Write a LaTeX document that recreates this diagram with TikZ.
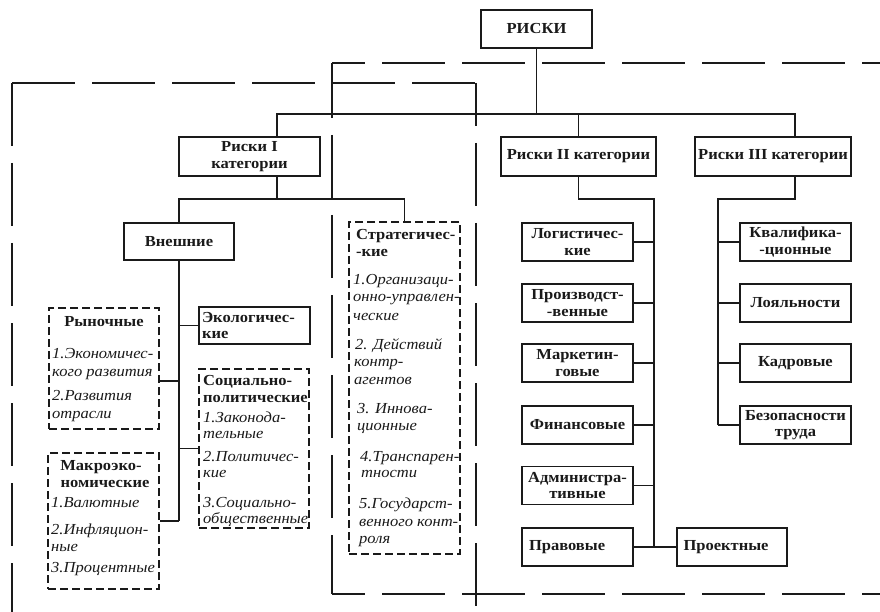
\documentclass[tikz,border=0pt]{standalone}
\usepackage{fontspec}
\setmainfont[FakeStretch=1.08]{Liberation Serif}
\definecolor{ink}{HTML}{1A1A1A}
\tikzset{
  ln/.style={draw=ink, line width=1.7pt},
  box/.style={draw=ink, line width=1.7pt, inner sep=0pt, align=center, text=ink,
    font=\bfseries\fontsize{15.3}{16.5}\selectfont},
  dbox/.style={draw=ink, line width=1.9pt, dash pattern=on 8pt off 4pt, inner sep=0pt},
  hd/.style={font=\bfseries\fontsize{15.3}{16.5}\selectfont, inner sep=0pt, text=ink},
  itx/.style={font=\itshape\fontsize{15.3}{18}\selectfont, inner sep=0pt, text=ink},
  big/.style={draw=ink, line width=2pt, dash pattern=on 63pt off 17pt},
}
\begin{document}
\begin{tikzpicture}[x=1pt,y=-1pt]
\useasboundingbox[fill=white] (0,0) rectangle (880,612);

% large dashed frames
\draw[big] (12,83) -- (12,612);
\draw[big] (12,83) -- (476,83);
\draw[big, dash phase=20pt] (476,83) -- (476,612);
\draw[big, dash phase=30pt] (332,63) -- (880,63);
\draw[big, dash phase=8pt] (332,63) -- (332,594);
\draw[big, dash phase=30pt] (332,594) -- (880,594);

% top level
\node[box, minimum width=111, minimum height=38] (root) at (536.5,29) {РИСКИ};
\node[box, minimum width=141, minimum height=39] (c1) at (249.5,156.5) {Риски I\\категории};
\node[box, minimum width=155, minimum height=39] (c2) at (578.5,156.5) {Риски II категории};
\node[box, minimum width=156, minimum height=39] (c3) at (773,156.5) {Риски III категории};

\coordinate (busL) at (277,114);
\coordinate (busR) at (795,114);
\draw[ln] (root.south) -- (root.south |- busL);
\draw[ln] (c1.north -| busL) -- (busL) -- (busR) -- (c3.north -| busR);
\draw[ln] (c2.north) -- (c2.north |- busL);

% category I
\node[box, minimum width=110, minimum height=37] (vn) at (179,241.5) {Внешние};
\node[dbox, minimum width=111, minimum height=332] (st) at (404.5,388) {};
\coordinate (j1) at (277,199);
\draw[ln] (c1.south -| j1) -- (j1);
\draw[ln] (vn.north) -- (vn.north |- j1) -- (st.north |- j1) -- (st.north);

\node[box, minimum width=111, minimum height=37, align=left, text width=105, inner xsep=3pt] (eco) at (254.5,325.5) {Экологичес-\\кие};
\node[dbox, minimum width=110, minimum height=121] (ryn) at (104,368.5) {};
\node[dbox, minimum width=110, minimum height=159] (sp) at (254,448.5) {};
\node[dbox, minimum width=111, minimum height=136] (mk) at (103.5,521) {};

\coordinate (sp1) at (179,521);
\coordinate (sp1a) at (179,381);
\draw[ln] (vn.south) -- (sp1);
\draw[ln] (eco.west) -- (eco.west -| sp1);
\draw[ln] (sp1a -| ryn.east) -- (sp1a);
\draw[ln] (sp.west) -- (sp.west -| sp1);
\draw[ln] (mk.east) -- (sp1);

% contents of dashed boxes
\node[hd, anchor=base] (rynh) at (104,326) {Рыночные};
\foreach \t/\y [count=\i] in {1.Экономичес-/358, кого развития/376, 2.Развития/400, отрасли/418}
  \node[itx, anchor=base west] (ry\i) at (52,\y) {\t};

\node[hd, anchor=base] (mkh1) at (101,470) {Макроэко-};
\node[hd, anchor=base] (mkh2) at (105,487) {номические};
\foreach \t/\y [count=\i] in {1.Валютные/507, 2.Инфляцион-/534, ные/551, 3.Процентные/572}
  \node[itx, anchor=base west] (mi\i) at (51,\y) {\t};

\node[hd, anchor=base west] (sph1) at (203,385) {Социально-};
\node[hd, anchor=base west] (sph2) at (203,402) {политические};
\foreach \t/\y [count=\i] in {1.Законода-/422, тельные/438, 2.Политичес-/461, кие/477, 3.Социально-/507, общественные/523}
  \node[itx, anchor=base west] (si\i) at (203,\y) {\t};

\node[hd, anchor=base west] (sth1) at (356,240) {Стратегичес-};
\node[hd, anchor=base west] (sth2) at (356,257) {-кие};
\foreach \t/\x/\y [count=\i] in {1.Организаци-/353/284, онно-управлен-/353/301, ческие/353/320,
  2. Действий/355/349, контр-/354/366, агентов/354/384,
  3. Иннова-/357/413, ционные/357/430,
  4.Транспарен-/360/461, тности/361/477,
  5.Государст-/359/508, венного конт-/359/526, роля/359/543}
  \node[itx, anchor=base west] (ti\i) at (\x,\y) {\t};

% category II
\node[box, minimum width=111, minimum height=38] (lg) at (577.5,242) {Логистичес-\\кие};
\node[box, minimum width=111, minimum height=38] (pr) at (577.5,303) {Производст-\\-венные};
\node[box, minimum width=111, minimum height=38] (mr) at (577.5,363) {Маркетин-\\говые};
\node[box, minimum width=111, minimum height=38] (fn) at (577.5,425) {Финансовые};
\node[box, minimum width=111, minimum height=38] (ad) at (577.5,485.5) {Администра-\\тивные};
\node[box, minimum width=111, minimum height=38, align=left, text width=97, inner xsep=7pt] (pv) at (577.5,547) {Правовые};
\node[box, minimum width=110, minimum height=38, align=left, text width=97, inner xsep=6.5pt] (pj) at (732,547) {Проектные};

\coordinate (j2) at (654,199);
\coordinate (j2b) at (654,547);
\draw[ln] (c2.south) -- (c2.south |- j2) -- (j2) -- (j2b);
\foreach \n in {lg,pr,mr,fn,ad}
  \draw[ln] (\n.east) -- (\n.east -| j2);
\draw[ln] (pv.east) -- (pj.west);

% category III
\node[box, minimum width=111, minimum height=38] (kv) at (795.5,242) {Квалифика-\\-ционные};
\node[box, minimum width=111, minimum height=38] (lo) at (795.5,303) {Лояльности};
\node[box, minimum width=111, minimum height=38] (kd) at (795.5,363) {Кадровые};
\node[box, minimum width=111, minimum height=38] (bz) at (795.5,425) {Безопасности\\труда};

\coordinate (j3t) at (795,199);
\coordinate (j3) at (718,199);
\coordinate (j3b) at (718,425);
\draw[ln] (c3.south -| j3t) -- (j3t) -- (j3) -- (j3b);
\foreach \n in {kv,lo,kd,bz}
  \draw[ln] (\n.west) -- (\n.west -| j3);
\end{tikzpicture}
\end{document}
